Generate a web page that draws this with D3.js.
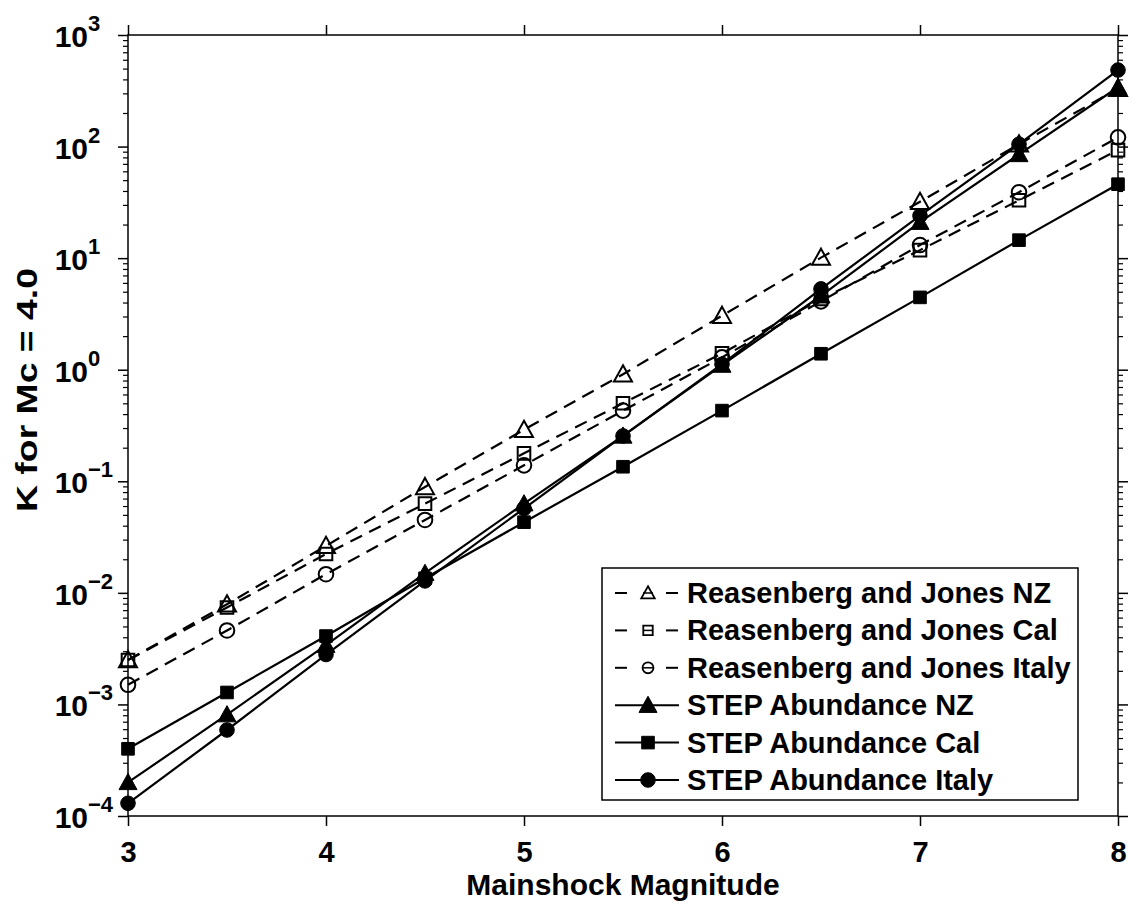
<!DOCTYPE html>
<html>
<head>
<meta charset="utf-8">
<script src="https://cdn.jsdelivr.net/npm/d3@7"></script>
<style>
  body { margin: 0; background: #fff; }
  svg text { font-family: "Liberation Sans", Arial, Helvetica, sans-serif; font-weight: bold; fill: #000; }
</style>
</head>
<body>
<svg id="chart" width="1133" height="905"></svg>
<script>
"use strict";

// DATA
const magnitudes = [3, 3.5, 4, 4.5, 5, 5.5, 6, 6.5, 7, 7.5, 8];
const rjNZ = [2.5e-3, 7.9e-3, 0.0264, 0.089, 0.29, 0.91, 3.05, 10.1, 32, 105, 330];
const rjCal = [2.5e-3, 7.4e-3, 0.0223, 0.063, 0.178, 0.50, 1.40, 4.3, 11.8, 33, 93];
const rjItaly = [1.5e-3, 4.6e-3, 0.0147, 0.045, 0.139, 0.43, 1.29, 4.1, 13.1, 39, 121];
const stepNZ = [2.0e-4, 8.1e-4, 3.4e-3, 0.015, 0.063, 0.255, 1.10, 4.6, 21, 85, 340];
const stepCal = [4.0e-4, 1.28e-3, 4.1e-3, 0.0135, 0.043, 0.135, 0.43, 1.39, 4.45, 14.5, 46];
const stepItaly = [1.3e-4, 5.9e-4, 2.8e-3, 0.0128, 0.057, 0.255, 1.12, 5.3, 24, 105, 485];

const xTicks = [3, 4, 5, 6, 7, 8];
const yExponents = [-4, -3, -2, -1, 0, 1, 2, 3];

const seriesNames = [
	"Reasenberg and Jones NZ",
	"Reasenberg and Jones Cal",
	"Reasenberg and Jones Italy",
	"STEP Abundance NZ",
	"STEP Abundance Cal",
	"STEP Abundance Italy",
];
const seriesValues = [rjNZ, rjCal, rjItaly, stepNZ, stepCal, stepItaly];
const seriesMarkers = ["triangle", "square", "circle", "triangle", "square", "circle"];
const seriesDashed = [true, true, true, false, false, false];

// LAYOUT
const plotLeft = 128, plotRight = 1118, plotTop = 35, plotBottom = 816;

const x = d3.scaleLinear().domain([3, 8]).range([plotLeft, plotRight]);
const y = d3.scaleLog().domain([1e-4, 1e3]).range([plotBottom, plotTop]);

const svg = d3.select("#chart");

// marker paths, centred on 0,0
function markerPath(type, big) {
	const k = big ? 1 : 0.75;
	if (type === "triangle") {
		const r = 9 * k;
		return `M0,${-r}L${r},${r * 0.8}L${-r},${r * 0.8}Z`;
	}
	if (type === "square") {
		const h = 6.3 * k;
		return `M${-h},${-h}H${h}V${h}H${-h}Z`;
	}
	const r = 7.3 * k;
	return d3.arc()({ innerRadius: 0, outerRadius: r, startAngle: 0, endAngle: 2 * Math.PI });
}

// axes box
svg.append("rect")
	.attr("x", plotLeft).attr("y", plotTop)
	.attr("width", plotRight - plotLeft).attr("height", plotBottom - plotTop)
	.attr("fill", "none").attr("stroke", "#000").attr("stroke-width", 1.5);

// x ticks (bottom and top, outward)
const xAxisBottom = d3.axisBottom(x).tickValues(xTicks).tickSize(10).tickFormat(d3.format("d"));
const xAxisTop = d3.axisTop(x).tickValues(xTicks).tickSize(10).tickFormat("");

svg.append("g").attr("transform", `translate(0,${plotBottom})`).call(xAxisBottom)
	.call((g) => g.select(".domain").remove())
	.call((g) => g.selectAll("line").attr("stroke-width", 1.5))
	.call((g) => g.selectAll("text").attr("font-size", 29).attr("dy", null).attr("y", 46)
		.style("font-family", "Liberation Sans, Arial, sans-serif").style("font-weight", "bold"));

svg.append("g").attr("transform", `translate(0,${plotTop})`).call(xAxisTop)
	.call((g) => g.select(".domain").remove())
	.call((g) => g.selectAll("line").attr("stroke-width", 1.5));

// y ticks: majors 10px, minors 5px, outward on both sides
const minorValues = [];
yExponents.slice(0, -1).forEach((e) => {
	for (let m = 2; m <= 9; m++) minorValues.push(m * Math.pow(10, e));
});
const majorValues = yExponents.map((e) => Math.pow(10, e));

[
	[d3.axisLeft, plotLeft],
	[d3.axisRight, plotRight],
].forEach(([axisFn, pos]) => {
	svg.append("g").attr("transform", `translate(${pos},0)`)
		.call(axisFn(y).tickValues(minorValues).tickSize(5).tickFormat(""))
		.call((g) => g.select(".domain").remove())
		.call((g) => g.selectAll("line").attr("stroke-width", 1.2));
	svg.append("g").attr("transform", `translate(${pos},0)`)
		.call(axisFn(y).tickValues(majorValues).tickSize(10).tickFormat(""))
		.call((g) => g.select(".domain").remove())
		.call((g) => g.selectAll("line").attr("stroke-width", 1.5));
});

// y tick labels 10^n
const yLabels = svg.append("g").selectAll("g")
	.data(yExponents)
	.join("g")
	.attr("transform", (e) => `translate(88,${y(Math.pow(10, e))})`);
yLabels.append("text")
	.attr("text-anchor", "end").attr("y", 12).attr("font-size", 30)
	.text("10");
yLabels.append("text")
	.attr("x", 0).attr("y", -4).attr("font-size", 22)
	.text((e) => (e < 0 ? "\u2212" + Math.abs(e) : String(e)));

// axis titles
svg.append("text")
	.attr("x", (plotLeft + plotRight) / 2).attr("y", 895)
	.attr("text-anchor", "middle").attr("font-size", 30)
	.text("Mainshock Magnitude");

// ylabel is drawn stretched along its baseline in the original
svg.append("text")
	.attr("transform", "translate(37,390) rotate(-90)")
	.attr("x", -122).attr("font-size", 30)
	.attr("textLength", 244).attr("lengthAdjust", "spacingAndGlyphs")
	.text("K for Mc = 4.0");

// data lines and markers
const line = d3.line()
	.x((d, i) => x(magnitudes[i]))
	.y((d) => y(d));

seriesValues.forEach((vals, s) => {
	const g = svg.append("g");
	g.append("path")
		.datum(vals)
		.attr("d", line)
		.attr("fill", "none")
		.attr("stroke", "#000")
		.attr("stroke-width", 2.2)
		.attr("stroke-dasharray", seriesDashed[s] ? "13,8" : null);
	g.selectAll("path.mk")
		.data(vals)
		.join("path")
		.attr("class", "mk")
		.attr("transform", (d, i) => `translate(${x(magnitudes[i])},${y(d)})`)
		.attr("d", markerPath(seriesMarkers[s], true))
		.attr("fill", seriesDashed[s] ? "none" : "#000")
		.attr("stroke", "#000")
		.attr("stroke-width", seriesDashed[s] ? 2 : 1);
});

// legend
const legX = 602, legY = 568, legW = 476, legH = 232, rowH = 37.4, firstRow = 593;
const legend = svg.append("g");
legend.append("rect")
	.attr("x", legX).attr("y", legY)
	.attr("width", legW).attr("height", legH)
	.attr("fill", "#fff").attr("stroke", "#000").attr("stroke-width", 1.5);

const rows = legend.selectAll("g.row")
	.data(seriesNames)
	.join("g")
	.attr("class", "row")
	.attr("transform", (d, i) => `translate(0,${firstRow + i * rowH})`);

rows.each(function (name, s) {
	const r = d3.select(this);
	if (seriesDashed[s]) {
		r.append("line").attr("x1", 615).attr("x2", 627).attr("stroke", "#000").attr("stroke-width", 2);
		r.append("line").attr("x1", 666).attr("x2", 678).attr("stroke", "#000").attr("stroke-width", 2);
		r.append("line").attr("x1", 643).attr("x2", 653).attr("stroke", "#000").attr("stroke-width", 1.5);
	} else {
		r.append("line").attr("x1", 615).attr("x2", 679).attr("stroke", "#000").attr("stroke-width", 2);
	}
	r.append("path")
		.attr("transform", "translate(648,0)")
		.attr("d", markerPath(seriesMarkers[s], !seriesDashed[s]))
		.attr("fill", seriesDashed[s] ? "none" : "#000")
		.attr("stroke", "#000")
		.attr("stroke-width", seriesDashed[s] ? 1.8 : 1);
	r.append("text")
		.attr("x", 687).attr("y", 10).attr("font-size", 29)
		.text(name);
});
</script>
</body>
</html>
